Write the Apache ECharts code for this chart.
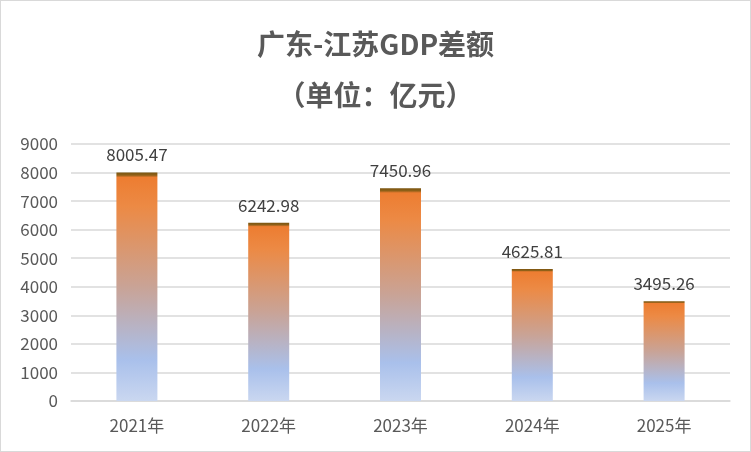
<!DOCTYPE html>
<html>
<head>
<meta charset="utf-8">
<script src="https://cdn.jsdelivr.net/npm/echarts@6/dist/echarts.min.js"></script>
<style>
  html, body { margin: 0; padding: 0; background: #fff; }
  #main { width: 749px; height: 450px; border: 1px solid #d9d9d9; }
</style>
</head>
<body>
<div id="main"></div>
<script>
var years = ['2021年', '2022年', '2023年', '2024年', '2025年'];
var gdpGap = [8005.47, 6242.98, 7450.96, 4625.81, 3495.26];
var yTicks = { min: 0, max: 9000, interval: 1000 };

var myChart = echarts.init(document.getElementById('main'));

// 柱子渐变：顶部深棕 -> 橙 -> 浅蓝
var barColor = new echarts.graphic.LinearGradient(0, 0, 0, 1, [
    { offset: 0, color: '#7a5510' },
    { offset: 0.012, color: '#8f6018' },
    { offset: 0.022, color: '#ed7d31' },
    { offset: 0.15, color: '#ec8a45' },
    { offset: 0.5, color: '#c9a396' },
    { offset: 0.82, color: '#a9c0eb' },
    { offset: 1, color: '#cad7f0' }
]);

var option = {
    animation: false,
    title: {
        text: '广东-江苏GDP差额\n（单位：亿元）',
        left: 'center',
        top: 13,
        textStyle: {
            color: '#595959',
            fontSize: 28,
            fontWeight: 'bold',
            lineHeight: 51,
            fontFamily: 'Noto Sans CJK SC'
        }
    },
    grid: {
        left: 70,
        right: 20,
        top: 143,
        bottom: 50
    },
    xAxis: {
        type: 'category',
        data: years,
        axisTick: { show: false },
        axisLine: { lineStyle: { color: '#d9d9d9', width: 1.5 } },
        axisLabel: {
            color: '#595959',
            fontSize: 17,
            margin: 16,
            fontFamily: 'Noto Sans CJK SC'
        }
    },
    yAxis: {
        type: 'value',
        min: yTicks.min,
        max: yTicks.max,
        interval: yTicks.interval,
        axisLine: { show: false },
        axisTick: { show: false },
        splitLine: { lineStyle: { color: '#d9d9d9', width: 1.5 } },
        axisLabel: {
            color: '#595959',
            fontSize: 17,
            margin: 13,
            fontFamily: 'Noto Sans CJK SC',
            formatter: function (v) { return String(v); }
        }
    },
    series: [{
        type: 'bar',
        data: gdpGap,
        barWidth: 41,
        itemStyle: { color: barColor },
        label: {
            show: true,
            position: 'top',
            distance: 9,
            color: '#404040',
            fontSize: 17,
            fontFamily: 'Noto Sans CJK SC',
            formatter: function (p) { return p.value.toFixed(2); }
        }
    }]
};

myChart.setOption(option);
</script>
</body>
</html>
